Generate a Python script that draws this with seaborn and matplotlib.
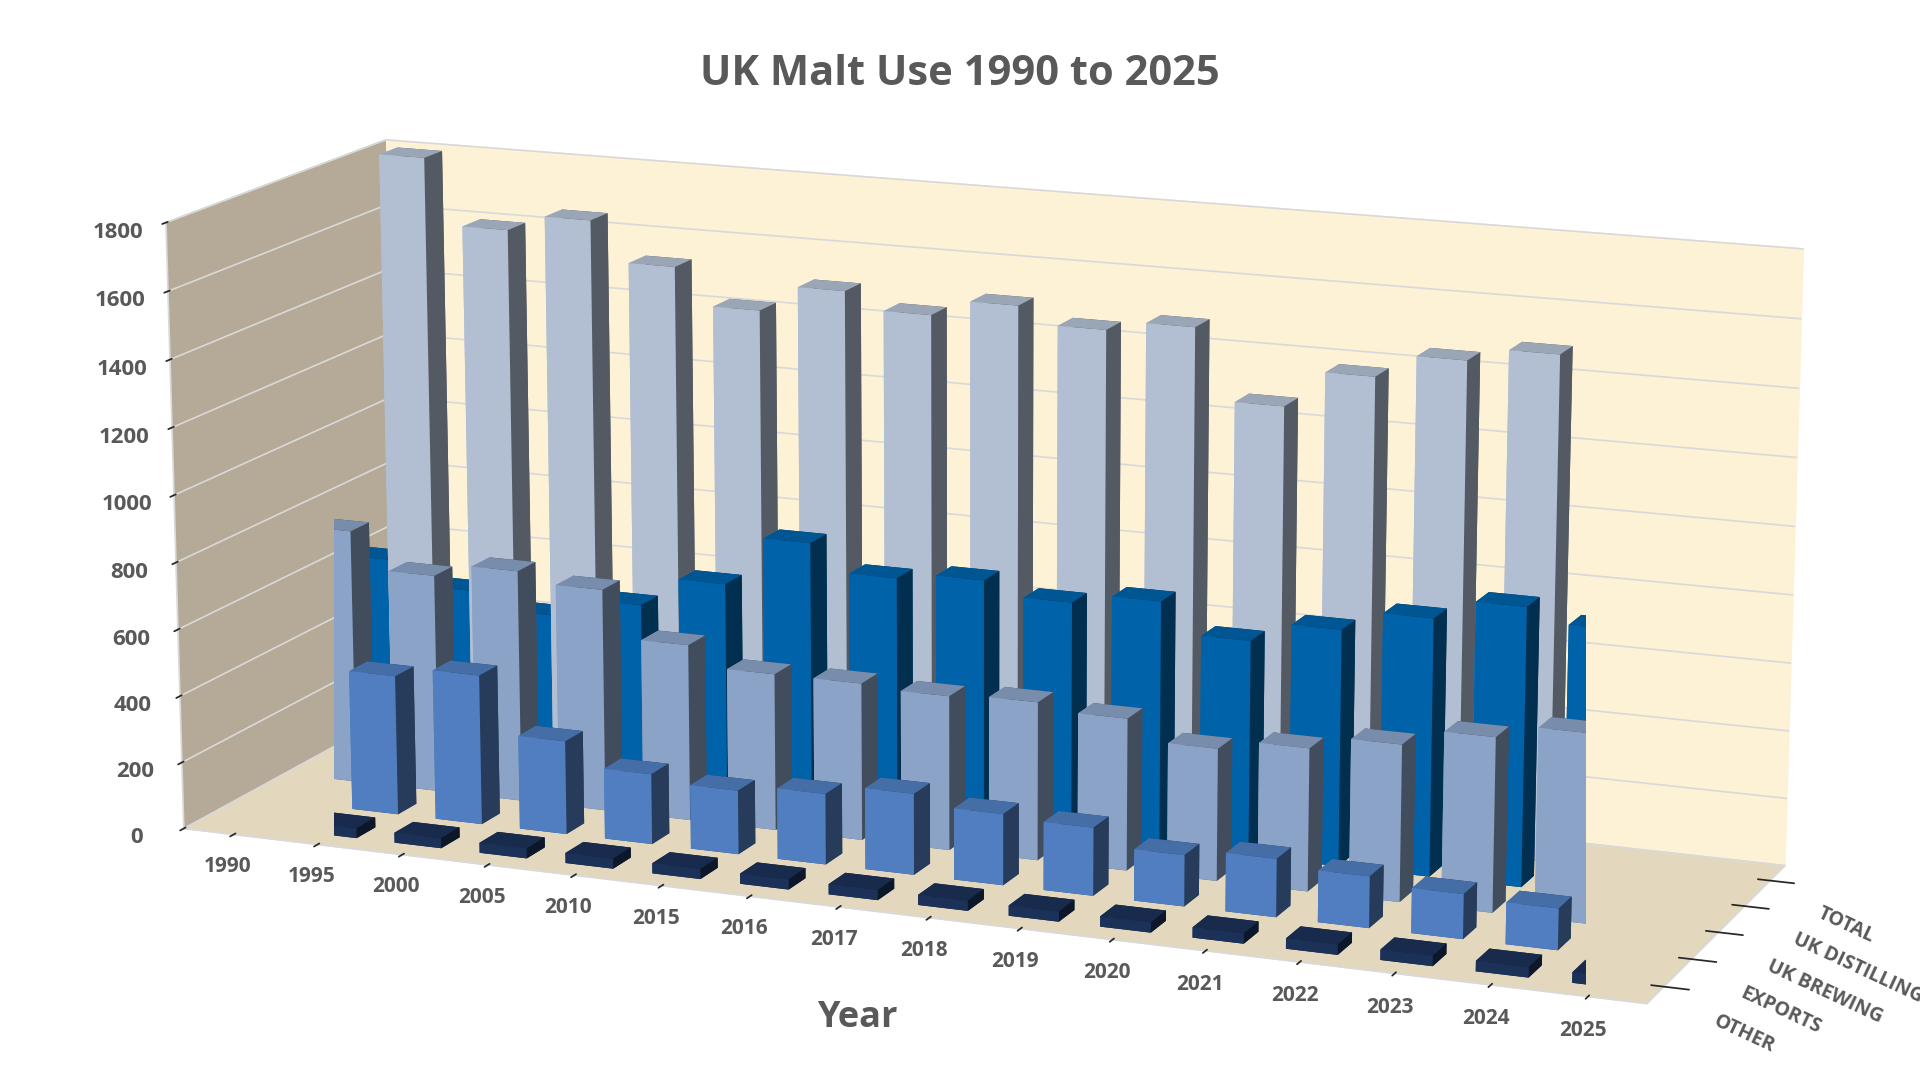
import numpy as np
import pandas as pd
import seaborn as sns
import matplotlib.pyplot as plt

YEARS = ["1990", "1995", "2000", "2005", "2010", "2015", "2016", "2017",
         "2018", "2019", "2020", "2021", "2022", "2023", "2024", "2025"]
SERIES = ["OTHER", "EXPORTS", "UK BREWING", "UK DISTILLING", "TOTAL"]

OTHER = [30, 30, 30, 30, 30, 30, 30, 30, 30, 30, 30, 30, 30, 30, 30, 30]
EXPORTS = [370, 420, 450, 280, 210, 190, 210, 240, 210, 200, 150, 170, 150, 130, 120, 110]
UK_BREWING = [770, 660, 700, 670, 530, 470, 470, 460, 470, 450, 390, 420, 460, 510, 550, 530]
UK_DISTILLING = [620, 550, 500, 560, 650, 800, 720, 740, 700, 730, 640, 700, 760, 820, 780, 560]
TOTAL = [1800, 1600, 1650, 1530, 1420, 1500, 1450, 1500, 1450, 1480, 1270, 1380, 1450, 1490, 1430, 1150]

COLORS = ["#1F3864", "#5B8FD9", "#9DB8E0", "#0070C0", "#C9D8EE"]

df = pd.DataFrame({"OTHER": OTHER, "EXPORTS": EXPORTS, "UK BREWING": UK_BREWING,
                   "UK DISTILLING": UK_DISTILLING, "TOTAL": TOTAL}, index=YEARS)

sns.set_theme(style="white")
plt.rcParams["font.family"] = ["Open Sans", "DejaVu Sans"]

fig = plt.figure(figsize=(19.2, 10.8), dpi=100)
ax = fig.add_axes([-0.02, -0.1, 1.04, 1.16], projection="3d")

dx, dy = 0.55, 0.45
for j, name in enumerate(SERIES):
    for i, year in enumerate(YEARS):
        ax.bar3d(i - dx / 2, j - dy / 2, 0, dx, dy, df.loc[year, name],
                 color=COLORS[j], shade=True, edgecolor="none")

ax.set_box_aspect((3.2, 1.0, 1.3), zoom=1.35)
ax.view_init(elev=14, azim=-68)
ax.set_xlim(-0.6, len(YEARS) - 0.4)
ax.set_ylim(-0.6, len(SERIES) - 0.4)
ax.set_zlim(0, 1800)

ax.set_xticks(range(len(YEARS)))
ax.set_xticklabels(YEARS, fontsize=15, fontweight="bold", color="#595959")
ax.set_yticks(range(len(SERIES)))
ax.set_yticklabels(SERIES, fontsize=14, fontweight="bold", color="#595959",
                   ha="left", rotation=-25)
ax.zaxis.set_ticks_position("lower")
ax.zaxis.set_label_position("lower")
ax.set_zticks(range(0, 1801, 200))
ax.set_zticklabels([str(v) for v in range(0, 1801, 200)], fontsize=16,
                   fontweight="bold", color="#595959")
ax.set_xlabel("Year", fontsize=26, fontweight="bold", color="#595959", labelpad=45)
ax.set_zlabel("Thousand Tonnes", fontsize=24, fontweight="bold", color="#595959",
              labelpad=35)
ax.zaxis.set_rotate_label(False)
ax.zaxis.label.set_rotation(90)

ax.xaxis.set_pane_color("#B5AA97")
ax.yaxis.set_pane_color("#FDF1D6")
ax.zaxis.set_pane_color("#E3D8BE")
for a in (ax.xaxis, ax.yaxis, ax.zaxis):
    a._axinfo["grid"]["color"] = "#D9D9D9"
    a._axinfo["grid"]["linewidth"] = 1.2
    a.line.set_color("#D9D9D9")
ax.xaxis._axinfo["grid"]["linewidth"] = 0
ax.yaxis._axinfo["grid"]["linewidth"] = 0
ax.tick_params(axis="both", length=0, pad=6)

fig.suptitle("UK Malt Use 1990 to 2025", fontsize=30, fontweight="bold",
             color="#595959", y=0.95)
fig.savefig("out.png", dpi=100, facecolor="white")
